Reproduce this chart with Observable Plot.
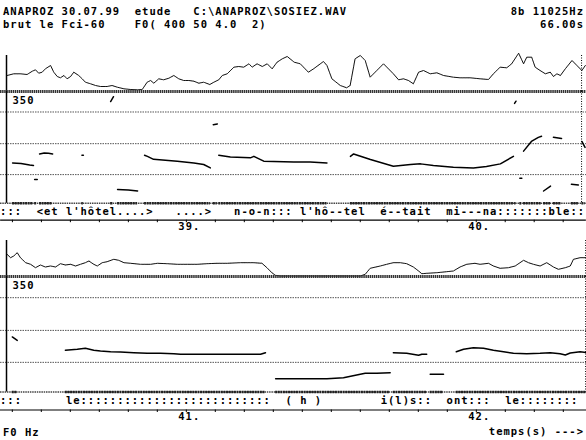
<!DOCTYPE html>
<html><head><meta charset="utf-8">
<script src="https://cdn.jsdelivr.net/npm/d3@7"></script>
<script src="https://cdn.jsdelivr.net/npm/@observablehq/plot@0.6"></script>
<style>
body{margin:0;background:#fff;}
#wrap{position:relative;width:586px;height:440px;overflow:hidden;background:#fff;}
.txt{position:absolute;white-space:pre;font:bold 10.5px/12px 'DejaVu Sans Mono',monospace;letter-spacing:1px;color:#000;}
</style></head><body><div id="wrap"></div>
<script>
// ---------- data ----------
const windowStart = [38.38, 40.38];      // s, start of each 2-second window
const windowLength = 2.0;                // s
const preroll = 0.0207;                  // s shown left of the window start
const cursorTime = [40.363, 42.377];     // s, dotted cursor
const secondLabels = [[39, 40], [41, 42]];
const f0Max = 350, f0Min = 50;           // Hz
const f0Grid = [295, 210, 127];          // Hz reference lines
const dbMax = 36;                        // intensity scale, dB

const header1 = "ANAPROZ 30.07.99  etude   C:\\ANAPROZ\\SOSIEZ.WAV";
const header1Right = "8b 11025Hz";
const header2 = "brut le Fci-60    F0( 400 50 4.0  2)";
const header2Right = "66.00s";
const yTitle = "F0 Hz";
const xTitle = "temps(s) --->";

const transcript1 = ":::  <et l'hôtel....>   ....>   n-o-n::: l'hô--tel  é--tait  mi---na:::::::ble::";
const transcript2 = ":::      le::::::::::::::::::::::::::  ( h )        i(l)s::  ont:::  le::::::::";

// intensity curves [time s, dB]
const intensity1 = [[38.382,16],[38.405,17.7],[38.428,17.7],[38.451,17],[38.469,20.3],[38.48,21.7],[38.491,18.3],[38.503,19.3],[38.514,22.7],[38.532,26],[38.543,19.3],[38.555,15],[38.566,13.7],[38.578,16],[38.589,12.7],[38.601,15],[38.612,19.3],[38.629,16],[38.641,12.7],[38.652,9.3],[38.67,7.7],[38.687,6],[38.704,5],[38.727,5],[38.744,6],[38.762,4.3],[38.785,2.7],[38.808,2],[38.831,1.7],[38.848,2],[38.865,9.3],[38.877,11],[38.888,8.3],[38.905,12.7],[38.922,11.7],[38.94,13.3],[38.957,16],[38.974,12.7],[38.991,11],[39.009,11],[39.026,10.3],[39.043,8.3],[39.06,9.3],[39.081,7],[39.095,9.3],[39.112,11.7],[39.124,16],[39.141,17.7],[39.164,24.3],[39.181,25],[39.198,24.3],[39.216,27.7],[39.227,24.3],[39.244,27.7],[39.262,25],[39.279,27.7],[39.296,22.7],[39.313,29.3],[39.331,32.7],[39.348,35],[39.365,31],[39.372,29.3],[39.393,27.7],[39.421,19.3],[39.439,22.7],[39.473,30],[39.485,26],[39.502,12.7],[39.531,6],[39.553,3.7],[39.565,6],[39.582,32.7],[39.6,36],[39.617,31],[39.634,14.3],[39.657,21],[39.68,27.7],[39.697,22.7],[39.714,17.7],[39.732,11.7],[39.749,12.7],[39.766,11],[39.783,7.7],[39.801,19.3],[39.818,21],[39.841,17.7],[39.864,18.7],[39.887,16],[39.921,14.3],[39.944,13.7],[39.979,13.7],[40.013,12.7],[40.042,12],[40.059,17.7],[40.082,24.3],[40.105,23.7],[40.122,27.7],[40.146,38.3],[40.163,27.7],[40.174,34.3],[40.191,34.3],[40.203,24.3],[40.22,21],[40.238,17.7],[40.255,19.3],[40.266,15],[40.278,17.7],[40.29,16],[40.307,22.7],[40.33,31],[40.347,26],[40.364,21],[40.376,26]];
const intensity2 = [[40.382,22.2],[40.394,18.8],[40.405,20.5],[40.417,23.8],[40.428,18.8],[40.446,13.8],[40.463,12.2],[40.48,8.8],[40.497,11.5],[40.514,9.5],[40.532,10.5],[40.549,9.5],[40.566,12.8],[40.583,11.5],[40.601,12.2],[40.618,10.5],[40.635,12.2],[40.652,13.8],[40.664,15.5],[40.681,12.2],[40.693,10.5],[40.71,13.8],[40.727,14.8],[40.75,17.2],[40.767,16.2],[40.785,13.8],[40.808,13.2],[40.842,12.2],[40.877,12.2],[40.9,13.2],[40.934,12.8],[40.969,12.2],[41.003,12.2],[41.038,12.2],[41.071,12.8],[41.106,13.2],[41.141,13.2],[41.186,13.8],[41.232,13.8],[41.261,13.2],[41.278,8.8],[41.295,3.8],[41.307,1.2],[41.324,0.5],[41.37,0.5],[41.485,0.5],[41.6,0.5],[41.617,2.2],[41.634,8.2],[41.669,10.5],[41.691,12.2],[41.714,13.8],[41.738,13.8],[41.76,12.8],[41.783,9.5],[41.801,5.5],[41.812,2.8],[41.829,3.2],[41.864,3.8],[41.898,4.8],[41.921,5.5],[41.944,9.5],[41.967,12.2],[41.995,13.2],[42.013,12.2],[42.042,13.2],[42.059,10.5],[42.082,8.2],[42.111,8.8],[42.134,10.5],[42.163,16.2],[42.18,13.8],[42.197,12.2],[42.22,10.5],[42.243,13.8],[42.266,9.5],[42.283,7.2],[42.307,8.8],[42.324,10.5],[42.335,17.2],[42.358,18.8],[42.381,18.8]];

// F0 tracks: list of voiced segments, each [time s, Hz]
const f0Panel1 = [
  [[38.401,158],[38.43,157],[38.46,153],[38.473,151.5]],
  [[38.494,182.5],[38.51,185],[38.525,184],[38.539,182.5]],
  [[38.477,114],[38.486,114]],
  [[38.64,179],[38.645,179]],
  [[38.739,323],[38.749,336]],
  [[38.763,87],[38.8,86],[38.832,83]],
  [[38.856,179],[38.866,176],[38.887,168],[38.969,163],[39.026,158],[39.06,154],[39.083,145]],
  [[39.093,261],[39.107,263]],
  [[39.112,179],[39.152,174],[39.221,172],[39.233,176],[39.267,163],[39.371,161],[39.427,161],[39.485,158]],
  [[39.566,176],[39.577,182.5],[39.635,167.5],[39.714,149.6],[39.773,154],[39.808,155.8],[39.852,151.5],[39.921,147],[39.99,145],[40.035,149],[40.083,155.8],[40.128,176]],
  [[40.132,318],[40.137,324]],
  [[40.15,117],[40.157,117]],
  [[40.163,190],[40.19,216],[40.214,227],[40.225,230]],
  [[40.232,83],[40.256,96]],
  [[40.266,227],[40.294,224]],
  [[40.328,101],[40.352,99]],
  [[40.364,216],[40.375,200]]
];
const f0Panel2 = [
  [[40.40,193],[40.417,184]],
  [[40.583,158.3],[40.624,160.9],[40.652,163.5],[40.681,158.3],[40.704,156.5],[40.739,154.7],[40.773,153.9],[40.819,152.1],[40.865,150.5],[40.911,150.5],[40.957,149.5],[40.98,147.9],[41.049,147.9],[41.164,147.9],[41.256,147.9],[41.273,152.1]],
  [[41.308,84.5],[41.37,84.5],[41.485,84.5],[41.542,87.1],[41.571,91.6],[41.6,96],[41.617,98.6],[41.657,98.6],[41.703,100.1]],
  [[41.714,152.1],[41.76,150.5],[41.801,145.3],[41.812,147.9],[41.829,147.9]],
  [[41.841,96],[41.887,96]],
  [[41.931,154.7],[41.956,160.9],[41.99,165],[42.025,163.5],[42.059,158.3],[42.094,154.7],[42.128,150.5],[42.174,149.5],[42.22,150.5],[42.255,152.1],[42.289,149.5],[42.307,146.1],[42.324,151.3],[42.358,154.7],[42.381,152.1]]
];

// ---------- layout / style ----------
const MONO = "'DejaVu Sans Mono','Liberation Mono',monospace";
const svgStyle = `position:absolute;left:0;font-family:${MONO};font-size:10.5px;font-weight:bold;letter-spacing:1px;background:transparent;overflow:visible;max-width:none;`;
const W = 586;
const panels = [
  {start: windowStart[0], intensity: intensity1, f0: f0Panel1, row: transcript1, labels: secondLabels[0], cursor: cursorTime[0],
   zeroY: 90.5, botY: 202.3, textY: 211.7, axisY: 220},
  {start: windowStart[1], intensity: intensity2, f0: f0Panel2, row: transcript2, labels: secondLabels[1], cursor: cursorTime[1],
   zeroY: 275.5, botY: 391, textY: 400.5, axisY: 409.5}
];

const wrap = document.getElementById("wrap");
function place(svg, top) { svg.setAttribute("style", svgStyle + `top:${top}px;`); wrap.appendChild(svg); }
function addText(str, opts) {
  const d = document.createElement("div");
  d.className = "txt"; d.textContent = str;
  d.style.top = (opts.cy - 6) + "px";
  if (opts.left != null) d.style.left = opts.left + "px"; else d.style.right = opts.right + "px";
  wrap.appendChild(d);
}

addText(header1, {left: 3, cy: 11});
addText(header1Right, {right: 2, cy: 11});
addText(header2, {left: 3, cy: 24});
addText(header2Right, {right: 2, cy: 24});
addText(yTitle, {left: 3, cy: 432});
addText(xTitle, {right: 2, cy: 431});

for (const p of panels) {
  const xDomain = [p.start - preroll, p.start + windowLength];
  const rows = p.f0.flatMap((seg, i) => seg.map(([t, hz]) => ({t, hz, seg: i})));
  const voiced = p.f0.map(seg => ({t0: seg[0][0], t1: seg[seg.length - 1][0]}));
  const minor = d3.range(Math.ceil(xDomain[0] * 10), Math.floor(xDomain[1] * 10) + 1).map(k => k / 10);

  // intensity
  const iH = 44;
  place(Plot.plot({
    width: W, height: iH, marginTop: iH - dbMax, marginBottom: 0, marginLeft: 0, marginRight: 0,
    x: {domain: xDomain, axis: null}, y: {domain: [0, dbMax], axis: null},
    marks: [
      Plot.ruleX([p.start], {stroke: "#000", strokeWidth: 1.5}),
      Plot.ruleX([p.cursor], {stroke: "#000", strokeWidth: 1, strokeDasharray: "1,1.5"}),
      Plot.line(p.intensity, {x: d => d[0], y: d => d[1], stroke: "#111", strokeWidth: 1, strokeDasharray: "2.2,0.6"})
    ]
  }), p.zeroY - iH);

  // F0
  const mt = 6, mb = 4;
  const fH = (p.botY - p.zeroY) + mt + mb;
  place(Plot.plot({
    width: W, height: fH, marginTop: mt, marginBottom: mb, marginLeft: 0, marginRight: 0,
    x: {domain: xDomain, axis: null}, y: {domain: [f0Min, f0Max], axis: null},
    marks: [
      Plot.ruleY(f0Grid, {stroke: "#555", strokeWidth: 1, strokeDasharray: "1.5,1"}),
      Plot.ruleY([f0Max], {stroke: "#333", strokeWidth: 3, strokeDasharray: "1.5,0.6"}),
      Plot.ruleY([f0Min], {stroke: "#444", strokeWidth: 1.6, strokeDasharray: "1.5,0.8"}),
      Plot.ruleY(voiced, {y: () => f0Min, x1: "t0", x2: "t1", stroke: "#222", strokeWidth: 2.6, strokeDasharray: "2,0.6"}),
      Plot.ruleX([p.start], {stroke: "#000", strokeWidth: 1.5}),
      Plot.ruleX([p.cursor], {stroke: "#000", strokeWidth: 1, strokeDasharray: "1,1.5"}),
      Plot.line(rows, {x: "t", y: "hz", z: "seg", stroke: "#000", strokeWidth: 1.5}),
      Plot.text([f0Max], {x: () => p.start, y: d => d, text: d => String(d), dx: 6, dy: 9.5, textAnchor: "start", lineAnchor: "middle", fill: "#000"})
    ]
  }), p.zeroY - mt);

  // transcription row + time axis
  const aTop = p.botY + 2;
  const aH = p.axisY + 14 - aTop;
  place(Plot.plot({
    width: W, height: aH, marginTop: 0, marginBottom: aH - (p.axisY - aTop), marginLeft: 0, marginRight: 0,
    x: {domain: xDomain, axis: null}, y: {domain: [0, 1], axis: null},
    marks: [
      Plot.ruleY([0], {stroke: "#000", strokeWidth: 1.2}),
      Plot.axisX(minor, {anchor: "bottom", tickSize: 2.5, tickFormat: () => "", stroke: "#000"}),
      Plot.text(p.labels, {x: d => d, frameAnchor: "bottom", text: d => `${d}.`, textAnchor: "start", dx: -8, dy: 6.5, lineAnchor: "middle", fill: "#000"}),
      Plot.text([p.row], {frameAnchor: "bottom-left", text: d => d, textAnchor: "start", dx: -0.5, dy: p.textY - p.axisY, lineAnchor: "middle", fill: "#000"})
    ]
  }), aTop);
}
</script></body></html>
